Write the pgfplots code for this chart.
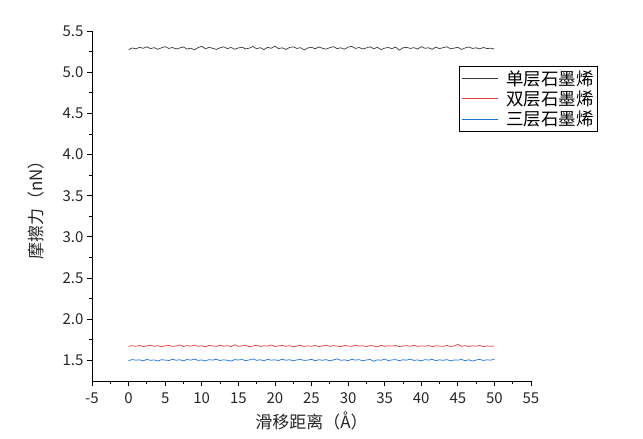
\documentclass[border=0pt]{standalone}
\usepackage{fontspec}
\setmainfont{Noto Sans CJK SC}
\usepackage{pgfplots}
\usepackage{pgfplotstable}
\pgfplotsset{compat=1.18}

\definecolor{cblack}{HTML}{3A3A3A}
\definecolor{cred}{HTML}{E8383D}
\definecolor{cblue}{HTML}{1F6FDB}

% x, single, double, triple layer friction (nN)
\pgfplotstableread{
x    a     b     c
0.0  5.274 1.670 1.498
0.5  5.294 1.678 1.510
1.0  5.284 1.672 1.503
1.5  5.302 1.681 1.507
2.0  5.290 1.668 1.495
2.5  5.308 1.676 1.512
3.0  5.286 1.684 1.501
3.5  5.298 1.671 1.506
4.0  5.278 1.679 1.493
4.5  5.296 1.666 1.509
5.0  5.310 1.677 1.504
5.5  5.288 1.683 1.499
6.0  5.300 1.670 1.513
6.5  5.282 1.675 1.502
7.0  5.294 1.688 1.508
7.5  5.306 1.669 1.496
8.0  5.280 1.680 1.511
8.5  5.292 1.673 1.503
9.0  5.272 1.686 1.516
9.5  5.298 1.671 1.500
10.0 5.314 1.678 1.506
10.5 5.284 1.665 1.494
11.0 5.302 1.682 1.509
11.5 5.290 1.676 1.504
12.0 5.276 1.670 1.514
12.5 5.296 1.685 1.499
13.0 5.308 1.673 1.507
13.5 5.286 1.679 1.502
14.0 5.300 1.668 1.492
14.5 5.278 1.690 1.510
15.0 5.294 1.672 1.505
15.5 5.304 1.677 1.511
16.0 5.282 1.681 1.498
16.5 5.292 1.667 1.506
17.0 5.312 1.675 1.517
17.5 5.284 1.684 1.501
18.0 5.298 1.670 1.508
18.5 5.274 1.678 1.496
19.0 5.302 1.673 1.512
19.5 5.290 1.687 1.503
20.0 5.316 1.669 1.507
20.5 5.286 1.676 1.499
21.0 5.296 1.682 1.515
21.5 5.276 1.671 1.502
22.0 5.300 1.679 1.509
22.5 5.308 1.666 1.495
23.0 5.288 1.674 1.506
23.5 5.298 1.683 1.511
24.0 5.270 1.670 1.500
24.5 5.294 1.677 1.504
25.0 5.302 1.672 1.513
25.5 5.284 1.681 1.497
26.0 5.306 1.668 1.508
26.5 5.290 1.676 1.502
27.0 5.280 1.685 1.510
27.5 5.298 1.671 1.494
28.0 5.310 1.679 1.506
28.5 5.286 1.674 1.519
29.0 5.296 1.667 1.501
29.5 5.278 1.682 1.507
30.0 5.304 1.675 1.498
30.5 5.314 1.670 1.512
31.0 5.288 1.686 1.504
31.5 5.300 1.673 1.509
32.0 5.282 1.678 1.496
32.5 5.294 1.669 1.505
33.0 5.308 1.680 1.511
33.5 5.284 1.676 1.490
34.0 5.302 1.664 1.507
34.5 5.274 1.683 1.502
35.0 5.292 1.671 1.514
35.5 5.300 1.677 1.499
36.0 5.286 1.674 1.506
36.5 5.306 1.681 1.510
37.0 5.266 1.668 1.497
37.5 5.296 1.675 1.508
38.0 5.302 1.679 1.503
38.5 5.288 1.672 1.516
39.0 5.298 1.684 1.500
39.5 5.280 1.670 1.506
40.0 5.310 1.676 1.495
40.5 5.290 1.673 1.509
41.0 5.296 1.680 1.504
41.5 5.278 1.667 1.512
42.0 5.304 1.678 1.498
42.5 5.286 1.674 1.507
43.0 5.298 1.671 1.501
43.5 5.308 1.682 1.510
44.0 5.284 1.669 1.494
44.5 5.292 1.676 1.506
45.0 5.302 1.694 1.503
45.5 5.276 1.672 1.511
46.0 5.294 1.679 1.497
46.5 5.306 1.670 1.508
47.0 5.288 1.677 1.492
47.5 5.296 1.673 1.505
48.0 5.282 1.681 1.512
48.5 5.300 1.668 1.500
49.0 5.286 1.675 1.507
49.5 5.292 1.671 1.503
50.0 5.280 1.676 1.515
}\friction

\begin{document}
\begin{tikzpicture}[x=1pt,y=1pt]
\begin{axis}[
  name=ax,
  at={(0pt,0pt)}, anchor=south west,
  scale only axis,
  width=439pt, height=350pt,
  xmin=-5, xmax=55,
  ymin=1.25, ymax=5.5,
  xtick={-5,0,...,55},
  ytick={1.5,2.0,...,5.5},
  minor x tick num=1,
  minor y tick num=1,
  axis x line=bottom,
  axis y line=left,
  axis line style={-, black, line width=0.8pt},
  tick align=outside,
  major tick length=5pt,
  minor tick length=3pt,
  tick style={black, line width=0.8pt},
  ticklabel style={font=\fontsize{15}{17}\selectfont, text=black!85},
  y tick label style={/pgf/number format/.cd, fixed, fixed zerofill, precision=1},
  x tick label style={yshift=-3pt},
  /pgf/number format/assume math mode=true,
  xlabel={滑移距离（Å）},
  ylabel={摩擦力（nN）},
  label style={font=\fontsize{17}{19}\selectfont, text=black!85},
  xlabel style={yshift=-1pt},
  ylabel style={yshift=12pt},
  legend cell align=left,
  legend style={
    at={(1.1526,0.9)}, anchor=north east,
    draw=black, line width=0.9pt,
    font=\fontsize{17.5}{19}\selectfont,
    inner xsep=2pt, inner ysep=2pt, row sep=0pt,
    /tikz/every odd column/.append style={column sep=6pt},
  },
  legend image code/.code={\draw[#1] (0pt,0pt) -- (36pt,0pt);},
]
\addplot[cblack, line width=0.7pt] table[x=x, y=a] {\friction};
\addplot[cred, line width=0.7pt] table[x=x, y=b] {\friction};
\addplot[cblue, line width=0.7pt] table[x=x, y=c] {\friction};
\legend{单层石墨烯, 双层石墨烯, 三层石墨烯}
\end{axis}
\path[use as bounding box] (-92pt,-58pt) rectangle (551pt,381pt);
\end{tikzpicture}
\end{document}
